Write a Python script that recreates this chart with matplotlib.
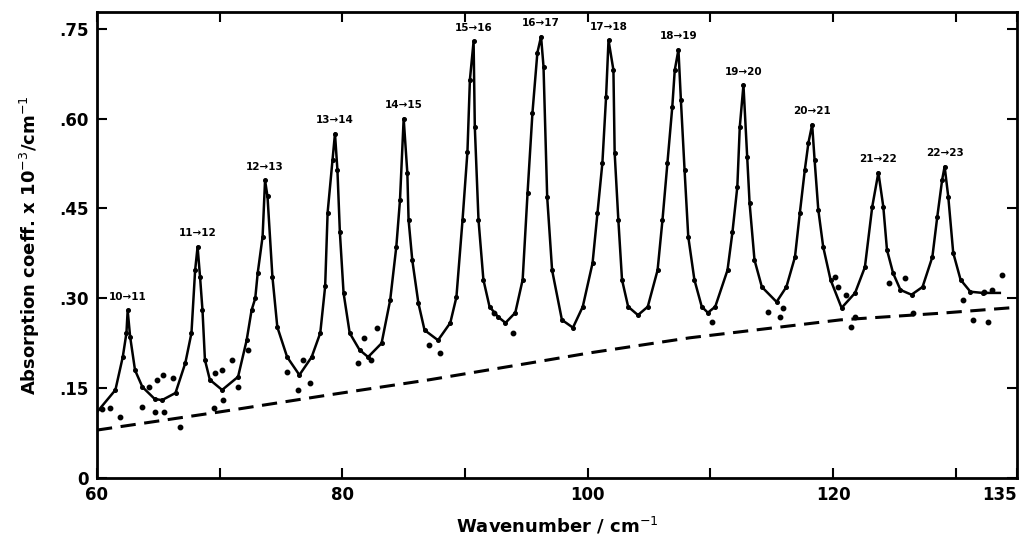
import matplotlib
matplotlib.use("Agg")
import matplotlib.pyplot as plt

# ---- fitted (solid) curve ----
curve_x = [60.0, 61.5, 62.1, 62.4, 62.5, 62.7, 63.1, 63.7, 64.7, 65.3, 66.4, 67.2, 67.7, 68.0, 68.2,
           68.4, 68.6, 68.8, 69.2, 70.2, 71.5, 72.2, 72.6, 72.9, 73.1, 73.5, 73.7, 73.9, 74.3, 74.7,
           75.5, 76.5, 77.5, 78.2, 78.6, 78.8, 79.2, 79.4, 79.6, 79.8, 80.1, 80.6, 81.4, 82.1, 83.2,
           83.9, 84.4, 84.7, 85.0, 85.3, 85.4, 85.7, 86.2, 86.7, 87.8, 88.8, 89.3, 89.8, 90.2, 90.4,
           90.7, 90.8, 91.1, 91.5, 92.0, 92.7, 93.3, 94.1, 94.7, 95.1, 95.5, 95.9, 96.2, 96.4, 96.7,
           97.1, 97.9, 98.8, 99.6, 100.4, 100.8, 101.2, 101.5, 101.7, 102.1, 102.2, 102.5, 102.8, 103.3,
           104.1, 104.9, 105.7, 106.1, 106.5, 106.9, 107.1, 107.4, 107.6, 107.9, 108.2, 108.7, 109.3,
           109.8, 110.4, 111.4, 111.8, 112.2, 112.4, 112.7, 113.0, 113.2, 113.6, 114.2, 115.4, 116.2,
           116.9, 117.3, 117.7, 118.0, 118.3, 118.5, 118.8, 119.2, 119.8, 120.7, 121.8, 122.6, 123.2,
           123.7, 124.1, 124.4, 124.9, 125.5, 126.4, 127.3, 128.1, 128.5, 128.9, 129.1, 129.4, 129.8,
           130.4, 131.2, 132.2, 133.6]
curve_y = [0.110, 0.147, 0.202, 0.242, 0.280, 0.236, 0.180, 0.152, 0.132, 0.130, 0.142, 0.192, 0.242, 0.347, 0.386,
           0.336, 0.280, 0.197, 0.164, 0.147, 0.169, 0.230, 0.280, 0.300, 0.342, 0.403, 0.497, 0.470, 0.336, 0.252,
           0.202, 0.172, 0.202, 0.242, 0.320, 0.443, 0.531, 0.575, 0.514, 0.410, 0.309, 0.242, 0.214, 0.202, 0.225,
           0.297, 0.386, 0.464, 0.600, 0.509, 0.431, 0.364, 0.292, 0.247, 0.230, 0.259, 0.302, 0.431, 0.545, 0.665,
           0.729, 0.586, 0.431, 0.331, 0.286, 0.269, 0.259, 0.276, 0.331, 0.476, 0.610, 0.710, 0.737, 0.687, 0.469,
           0.347, 0.264, 0.251, 0.286, 0.359, 0.443, 0.526, 0.636, 0.731, 0.681, 0.543, 0.431, 0.331, 0.286,
           0.272, 0.286, 0.347, 0.431, 0.526, 0.620, 0.681, 0.715, 0.631, 0.514, 0.403, 0.331, 0.286,
           0.276, 0.286, 0.347, 0.410, 0.486, 0.586, 0.656, 0.536, 0.459, 0.364, 0.319, 0.294, 0.319,
           0.369, 0.443, 0.514, 0.560, 0.590, 0.531, 0.448, 0.386, 0.331, 0.284, 0.309, 0.352, 0.453,
           0.510, 0.453, 0.381, 0.342, 0.314, 0.306, 0.319, 0.369, 0.436, 0.498, 0.520, 0.469, 0.376,
           0.331, 0.311, 0.309, 0.309]

# ---- scattered measured points off the curve ----
scatter_x = [60.4, 61.1, 61.9, 63.7, 64.2, 64.7, 64.9, 65.4, 65.5, 66.2, 66.8, 69.5, 69.6, 70.2, 70.3,
             71.0, 71.5, 72.3, 75.5, 76.4, 76.8, 77.4, 81.3, 81.8, 82.3, 82.8, 87.1, 88.0, 92.4, 93.9,
             110.1, 114.7, 115.7, 115.9, 120.2, 120.4, 121.1, 121.5, 121.8, 124.6, 125.9, 126.5,
             130.6, 131.4, 132.3, 132.6, 133.0, 133.8]
scatter_y = [0.115, 0.117, 0.102, 0.119, 0.152, 0.110, 0.164, 0.172, 0.110, 0.167, 0.085, 0.117, 0.175, 0.180, 0.130,
             0.197, 0.152, 0.214, 0.177, 0.147, 0.197, 0.159, 0.192, 0.234, 0.197, 0.251, 0.222, 0.209, 0.276, 0.242,
             0.260, 0.277, 0.269, 0.284, 0.336, 0.319, 0.306, 0.252, 0.269, 0.326, 0.334, 0.275,
             0.297, 0.264, 0.311, 0.261, 0.314, 0.339]

# ---- dashed background line ----
base_x = [60, 69.9, 79.0, 87.1, 95.3, 100.2, 108.3, 120.6, 128.7, 135]
base_y = [0.080, 0.110, 0.139, 0.164, 0.192, 0.209, 0.234, 0.264, 0.275, 0.285]

# ---- peak labels ----
peak_labels = ["10→11", "11→12", "12→13", "13→14", "14→15", "15→16", "16→17",
               "17→18", "18→19", "19→20", "20→21", "21→22", "22→23"]
peak_x = [62.5, 68.2, 73.7, 79.4, 85.0, 90.7, 96.2, 101.7, 107.4, 112.7, 118.3, 123.7, 129.1]
peak_y = [0.280, 0.386, 0.497, 0.575, 0.600, 0.729, 0.737, 0.731, 0.715, 0.656, 0.590, 0.510, 0.520]

xticks = [60, 70, 80, 90, 100, 110, 120, 130, 135]
xtick_labels = ["60", "", "80", "", "100", "", "120", "", "135"]
yticks = [0, 0.15, 0.30, 0.45, 0.60, 0.75]
ytick_labels = ["0", ".15", ".30", ".45", ".60", ".75"]

fig = plt.figure(figsize=(10.23, 5.42), dpi=100)
ax = fig.add_axes([97 / 1023, 1 - 478 / 542, 920 / 1023, 466 / 542])

ax.plot(curve_x, curve_y, color="black", lw=1.8, zorder=3)
ax.plot(curve_x[1:-1], curve_y[1:-1], "o", color="black", ms=2.6, zorder=4)
ax.plot(scatter_x, scatter_y, "o", color="black", ms=3.2, zorder=4)
ax.plot(base_x, base_y, color="black", lw=2.2, ls=(0, (5, 2.8)), zorder=2)

for lab, px, py in zip(peak_labels, peak_x, peak_y):
    ax.annotate(lab, (px, py), xytext=(0, 6), textcoords="offset points",
                ha="center", va="bottom", fontsize=7.5, fontweight="bold")

ax.set_xlim(60, 135)
ax.set_ylim(0, 0.778)
ax.set_xticks(xticks)
ax.set_xticklabels(xtick_labels)
ax.set_yticks(yticks)
ax.set_yticklabels(ytick_labels)
ax.tick_params(direction="in", length=7, width=1.5, top=True, right=True,
               labelsize=12, pad=6)
for t in ax.get_xticklabels() + ax.get_yticklabels():
    t.set_fontweight("bold")
ax.get_xticklabels()[-1].set_horizontalalignment("right")
for s in ax.spines.values():
    s.set_linewidth(2)

ax.set_xlabel("Wavenumber / cm$^{-1}$", fontsize=13, fontweight="bold", labelpad=8)
ax.set_ylabel("Absorption coeff. x 10$^{-3}$/cm$^{-1}$", fontsize=13, fontweight="bold", labelpad=12)

fig.savefig("out.png", dpi=100)
